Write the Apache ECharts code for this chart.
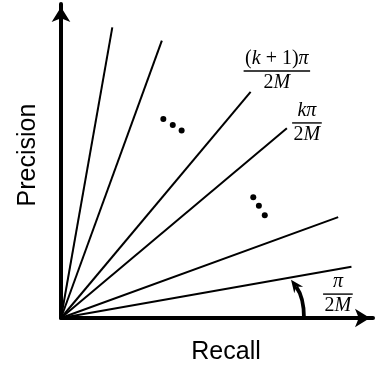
<!DOCTYPE html>
<html><head><meta charset="utf-8">
<script src="https://cdn.jsdelivr.net/npm/echarts@6/dist/echarts.min.js"></script>
<style>html,body{margin:0;padding:0;background:#fff}#c{width:376px;height:369px}</style>
</head><body><div id="c"></div>
<script>
// ---- data ----
const xAxisName = 'Recall';
const yAxisName = 'Precision';
const xMax = 1.058, yMax = 1.064;
const rayEndX = [0.174, 0.342, 0.643, 0.766, 0.940, 0.985];
const rayEndY = [0.985, 0.940, 0.766, 0.643, 0.342, 0.174];
const dotX = [0.347, 0.379, 0.409, 0.652, 0.671, 0.691];
const dotY = [0.674, 0.654, 0.635, 0.409, 0.380, 0.348];
const fracX = [0.732, 0.834, 0.939];
const fracY = [0.837, 0.661, 0.081];
const fracNum = ['(k + 1)π', 'kπ', 'π'];
const fracDen = ['2M', '2M', '2M'];
// angle arrow: start on the x axis, control point, end on the lowest ray
const arcX = [0.824, 0.824, 0.780];
const arcY = [0.000, 0.070, 0.130];

// ---- styling helpers ----
const SERIF = '"Liberation Serif", "Times New Roman", serif';
const FS = 20;
const RICH = {
  it: {fontFamily: SERIF, fontSize: FS, fontStyle: 'italic', fill: '#000', color: '#000'},
  rm: {fontFamily: SERIF, fontSize: FS, fill: '#000', color: '#000'}
};
const mctx = document.createElement('canvas').getContext('2d');
function segs(s) {
  return s.split(/([A-Za-zπ]+)/).filter(t => t.length).map(t => ({t, it: /^[A-Za-zπ]+$/.test(t)}));
}
function measure(sg) {
  let w = 0;
  sg.forEach(s => { mctx.font = (s.it ? 'italic ' : '') + FS + 'px ' + SERIF; w += mctx.measureText(s.t).width; });
  return w;
}
function richStr(sg) { return sg.map(s => '{' + (s.it ? 'it' : 'rm') + '|' + s.t + '}').join(''); }

const series = [];
rayEndX.forEach((x, i) => {
  series.push({type: 'line', data: [[0, 0], [x, rayEndY[i]]], symbol: 'none', silent: true,
    lineStyle: {color: '#000', width: 2}, z: 1});
});
series.push({type: 'scatter', data: dotX.map((x, i) => [x, dotY[i]]), symbol: 'circle', symbolSize: 6,
  itemStyle: {color: '#000', opacity: 1}, z: 3});
series.push({type: 'custom', clip: false, z: 4,
  data: fracX.map((x, i) => [x, fracY[i]]),
  renderItem(params, api) {
    const i = params.dataIndex;
    const p = api.coord([api.value(0), api.value(1)]);
    const ns = segs(fracNum[i]), ds = segs(fracDen[i]);
    const w = Math.max(measure(ns), measure(ds)) + 3;
    return {type: 'group', children: [
      {type: 'text', x: p[0], y: p[1] - 12.5, style: {text: richStr(ns), rich: RICH, align: 'center', verticalAlign: 'middle', fill: '#000'}},
      {type: 'rect', shape: {x: p[0] - w / 2, y: p[1] - 0.7, width: w, height: 1.4}, style: {fill: '#000'}},
      {type: 'text', x: p[0], y: p[1] + 12, style: {text: richStr(ds), rich: RICH, align: 'center', verticalAlign: 'middle', fill: '#000'}}
    ]};
  }
});
series.push({type: 'custom', clip: false, z: 5,
  data: [[arcX[0], arcY[0]]],
  renderItem(params, api) {
    const S = api.coord([arcX[0], arcY[0]]);
    const C = api.coord([arcX[1], arcY[1]]);
    const E = api.coord([arcX[2], arcY[2]]);
    let d = [E[0] - C[0], E[1] - C[1]];
    const len = Math.hypot(d[0], d[1]);
    d = [d[0] / len, d[1] / len];
    const n = [-d[1], d[0]];
    const L = 13, W = 5.5;
    const base = [E[0] - L * d[0], E[1] - L * d[1]];
    const notch = [E[0] - 0.68 * L * d[0], E[1] - 0.68 * L * d[1]];
    return {type: 'group', children: [
      {type: 'bezierCurve', shape: {x1: S[0], y1: S[1], x2: notch[0], y2: notch[1], cpx1: C[0], cpy1: C[1]},
        style: {stroke: '#000', lineWidth: 3.8, fill: null}},
      {type: 'polygon', shape: {points: [E, [base[0] + W * n[0], base[1] + W * n[1]], notch, [base[0] - W * n[0], base[1] - W * n[1]]]},
        style: {fill: '#000'}}
    ]};
  }
});

const axisCommon = {
  type: 'value', min: 0,
  axisLine: {show: true, onZero: false, lineStyle: {color: '#000', width: 4}, symbol: ['none', 'arrow'], symbolSize: [14, 15], symbolOffset: [0, -3]},
  axisTick: {show: false}, axisLabel: {show: false}, splitLine: {show: false},
  nameLocation: 'middle'
};

const chart = echarts.init(document.getElementById('c'), null, {renderer: 'canvas'});
chart.setOption({
  animation: false,
  backgroundColor: '#fff',
  grid: {left: 61, right: 3, top: 4, bottom: 51, outerBoundsMode: 'none', containLabel: false},
  xAxis: Object.assign({}, axisCommon, {max: xMax, name: xAxisName, nameGap: 22,
    nameTextStyle: {fontFamily: '"Liberation Sans", Arial, sans-serif', fontSize: 25, color: '#000', padding: [0, 0, 0, 18]}}),
  yAxis: Object.assign({}, axisCommon, {max: yMax, name: yAxisName, nameGap: 20, nameRotate: 90,
    nameTextStyle: {fontFamily: '"Liberation Sans", Arial, sans-serif', fontSize: 25, color: '#000', padding: [0, 0, 0, 12]}}),
  series: series
});
</script>
</body></html>
